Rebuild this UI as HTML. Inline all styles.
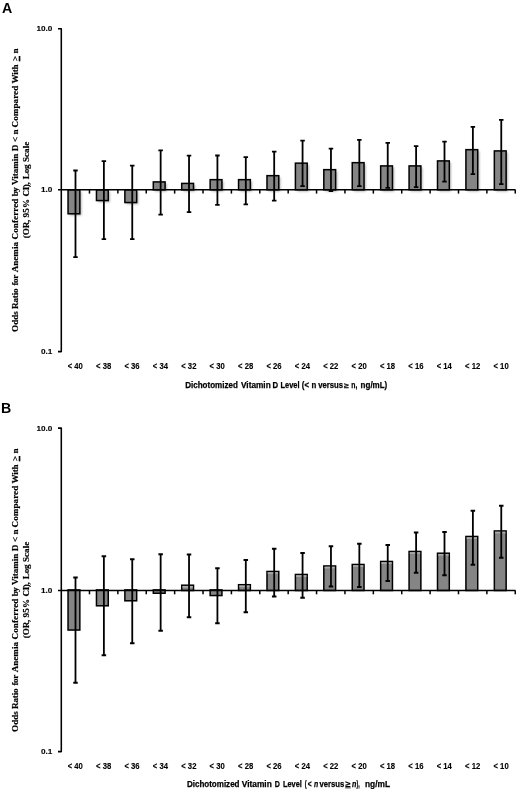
<!DOCTYPE html>
<html><head><meta charset="utf-8"><title>Figure</title>
<style>
html,body{margin:0;padding:0;background:#fff;}
body{width:520px;height:791px;overflow:hidden;font-family:"Liberation Sans",sans-serif;}
svg{display:block;}
text{fill:#000;}
.tk{font:bold 8.0px "Liberation Sans",sans-serif;stroke:#000;stroke-width:0.12px;}
.xl{font:bold 8.4px "Liberation Sans",sans-serif;stroke:#000;stroke-width:0.12px;}
.xt{font:bold 8.7px "Liberation Sans",sans-serif;stroke:#000;stroke-width:0.25px;}
.yt{font:bold 9.1px "Liberation Serif",serif;stroke:#000;stroke-width:0.2px;}
.pl{font:bold 14.2px "Liberation Sans",sans-serif;}
</style></head><body>
<svg width="520" height="791" viewBox="0 0 520 791">
<defs>
<filter id="sh" x="-50%" y="-50%" width="200%" height="200%"><feGaussianBlur stdDeviation="0.9"/></filter>
<filter id="soft" x="0" y="0" width="100%" height="100%"><feGaussianBlur stdDeviation="0.42"/></filter>
</defs>
<rect width="520" height="791" fill="#fff"/>
<g filter="url(#soft)">
<rect x="69.74" y="191.50" width="11.80" height="24.00" fill="#000" opacity="0.3" filter="url(#sh)"/>
<rect x="68.04" y="189.80" width="11.80" height="24.00" fill="#858585" stroke="#000" stroke-width="1.5"/>
<rect x="98.16" y="191.50" width="11.80" height="10.75" fill="#000" opacity="0.3" filter="url(#sh)"/>
<rect x="96.46" y="189.80" width="11.80" height="10.75" fill="#858585" stroke="#000" stroke-width="1.5"/>
<rect x="126.58" y="191.50" width="11.80" height="12.75" fill="#000" opacity="0.3" filter="url(#sh)"/>
<rect x="124.88" y="189.80" width="11.80" height="12.75" fill="#858585" stroke="#000" stroke-width="1.5"/>
<rect x="155.00" y="183.61" width="11.80" height="7.89" fill="#000" opacity="0.3" filter="url(#sh)"/>
<rect x="153.30" y="181.91" width="11.80" height="7.89" fill="#858585" stroke="#000" stroke-width="1.5"/>
<rect x="183.42" y="185.11" width="11.80" height="6.39" fill="#000" opacity="0.3" filter="url(#sh)"/>
<rect x="181.72" y="183.41" width="11.80" height="6.39" fill="#858585" stroke="#000" stroke-width="1.5"/>
<rect x="211.84" y="181.36" width="11.80" height="10.14" fill="#000" opacity="0.3" filter="url(#sh)"/>
<rect x="210.14" y="179.66" width="11.80" height="10.14" fill="#858585" stroke="#000" stroke-width="1.5"/>
<rect x="240.26" y="181.36" width="11.80" height="10.14" fill="#000" opacity="0.3" filter="url(#sh)"/>
<rect x="238.56" y="179.66" width="11.80" height="10.14" fill="#858585" stroke="#000" stroke-width="1.5"/>
<rect x="268.68" y="177.36" width="11.80" height="14.14" fill="#000" opacity="0.3" filter="url(#sh)"/>
<rect x="266.98" y="175.66" width="11.80" height="14.14" fill="#858585" stroke="#000" stroke-width="1.5"/>
<rect x="297.10" y="164.86" width="11.80" height="26.64" fill="#000" opacity="0.3" filter="url(#sh)"/>
<rect x="295.40" y="163.16" width="11.80" height="26.64" fill="#858585" stroke="#000" stroke-width="1.5"/>
<rect x="325.52" y="171.36" width="11.80" height="20.14" fill="#000" opacity="0.3" filter="url(#sh)"/>
<rect x="323.82" y="169.66" width="11.80" height="20.14" fill="#858585" stroke="#000" stroke-width="1.5"/>
<rect x="353.94" y="164.36" width="11.80" height="27.14" fill="#000" opacity="0.3" filter="url(#sh)"/>
<rect x="352.24" y="162.66" width="11.80" height="27.14" fill="#858585" stroke="#000" stroke-width="1.5"/>
<rect x="382.36" y="167.61" width="11.80" height="23.89" fill="#000" opacity="0.3" filter="url(#sh)"/>
<rect x="380.66" y="165.91" width="11.80" height="23.89" fill="#858585" stroke="#000" stroke-width="1.5"/>
<rect x="410.78" y="167.61" width="11.80" height="23.89" fill="#000" opacity="0.3" filter="url(#sh)"/>
<rect x="409.08" y="165.91" width="11.80" height="23.89" fill="#858585" stroke="#000" stroke-width="1.5"/>
<rect x="439.20" y="162.61" width="11.80" height="28.89" fill="#000" opacity="0.3" filter="url(#sh)"/>
<rect x="437.50" y="160.91" width="11.80" height="28.89" fill="#858585" stroke="#000" stroke-width="1.5"/>
<rect x="467.62" y="151.36" width="11.80" height="40.14" fill="#000" opacity="0.3" filter="url(#sh)"/>
<rect x="465.92" y="149.66" width="11.80" height="40.14" fill="#858585" stroke="#000" stroke-width="1.5"/>
<rect x="496.04" y="152.61" width="11.80" height="38.89" fill="#000" opacity="0.3" filter="url(#sh)"/>
<rect x="494.34" y="150.91" width="11.80" height="38.89" fill="#858585" stroke="#000" stroke-width="1.5"/>
<path d="M58 28.70 H61.30 V351.60 H58" stroke="#000" stroke-width="1.55" fill="none" stroke-linejoin="round"/>
<path d="M58 189.80 H515.56" stroke="#000" stroke-width="1.55"/>
<path d="M89.48 189.80 V193.60" stroke="#000" stroke-width="1.5"/>
<path d="M117.87 189.80 V193.60" stroke="#000" stroke-width="1.5"/>
<path d="M146.25 189.80 V193.60" stroke="#000" stroke-width="1.5"/>
<path d="M174.64 189.80 V193.60" stroke="#000" stroke-width="1.5"/>
<path d="M203.03 189.80 V193.60" stroke="#000" stroke-width="1.5"/>
<path d="M231.41 189.80 V193.60" stroke="#000" stroke-width="1.5"/>
<path d="M259.80 189.80 V193.60" stroke="#000" stroke-width="1.5"/>
<path d="M288.18 189.80 V193.60" stroke="#000" stroke-width="1.5"/>
<path d="M316.56 189.80 V193.60" stroke="#000" stroke-width="1.5"/>
<path d="M344.95 189.80 V193.60" stroke="#000" stroke-width="1.5"/>
<path d="M373.34 189.80 V193.60" stroke="#000" stroke-width="1.5"/>
<path d="M401.72 189.80 V193.60" stroke="#000" stroke-width="1.5"/>
<path d="M430.11 189.80 V193.60" stroke="#000" stroke-width="1.5"/>
<path d="M458.49 189.80 V193.60" stroke="#000" stroke-width="1.5"/>
<path d="M486.88 189.80 V193.60" stroke="#000" stroke-width="1.5"/>
<path d="M515.26 189.80 V193.60" stroke="#000" stroke-width="1.5"/>
<path d="M75.49 170.30 V257.25 M73.24 170.50 h4.5 M73.24 257.05 h4.5" stroke="#000" stroke-width="1.8" fill="none"/>
<path d="M103.88 160.95 V239.25 M101.63 161.15 h4.5 M101.63 239.05 h4.5" stroke="#000" stroke-width="1.8" fill="none"/>
<path d="M132.26 165.45 V239.25 M130.01 165.65 h4.5 M130.01 239.05 h4.5" stroke="#000" stroke-width="1.8" fill="none"/>
<path d="M160.65 150.20 V214.75 M158.40 150.40 h4.5 M158.40 214.55 h4.5" stroke="#000" stroke-width="1.8" fill="none"/>
<path d="M189.03 155.45 V212.25 M186.78 155.65 h4.5 M186.78 212.05 h4.5" stroke="#000" stroke-width="1.8" fill="none"/>
<path d="M217.42 155.30 V205.00 M215.17 155.50 h4.5 M215.17 204.80 h4.5" stroke="#000" stroke-width="1.8" fill="none"/>
<path d="M245.80 156.95 V204.50 M243.55 157.15 h4.5 M243.55 204.30 h4.5" stroke="#000" stroke-width="1.8" fill="none"/>
<path d="M274.19 151.45 V200.80 M271.94 151.65 h4.5 M271.94 200.60 h4.5" stroke="#000" stroke-width="1.8" fill="none"/>
<path d="M302.57 140.45 V186.25 M300.32 140.65 h4.5 M300.32 186.05 h4.5" stroke="#000" stroke-width="1.8" fill="none"/>
<path d="M330.96 148.45 V191.35 M328.71 148.65 h4.5 M328.71 191.15 h4.5" stroke="#000" stroke-width="1.8" fill="none"/>
<path d="M359.34 139.70 V186.25 M357.09 139.90 h4.5 M357.09 186.05 h4.5" stroke="#000" stroke-width="1.8" fill="none"/>
<path d="M387.73 142.70 V188.00 M385.48 142.90 h4.5 M385.48 187.80 h4.5" stroke="#000" stroke-width="1.8" fill="none"/>
<path d="M416.11 145.95 V187.25 M413.86 146.15 h4.5 M413.86 187.05 h4.5" stroke="#000" stroke-width="1.8" fill="none"/>
<path d="M444.50 141.45 V181.75 M442.25 141.65 h4.5 M442.25 181.55 h4.5" stroke="#000" stroke-width="1.8" fill="none"/>
<path d="M472.88 126.70 V174.25 M470.63 126.90 h4.5 M470.63 174.05 h4.5" stroke="#000" stroke-width="1.8" fill="none"/>
<path d="M501.27 119.70 V184.25 M499.02 119.90 h4.5 M499.02 184.05 h4.5" stroke="#000" stroke-width="1.8" fill="none"/>
<text x="36.5" y="31.30" class="tk" textLength="15.9" lengthAdjust="spacingAndGlyphs">10.0</text>
<text x="41.0" y="192.30" class="tk" textLength="11.4" lengthAdjust="spacingAndGlyphs">1.0</text>
<text x="41.0" y="354.40" class="tk" textLength="11.4" lengthAdjust="spacingAndGlyphs">0.1</text>
<text x="67.69" y="369.00" class="xl" textLength="15.2" lengthAdjust="spacingAndGlyphs">&lt; 40</text>
<text x="96.08" y="369.00" class="xl" textLength="15.2" lengthAdjust="spacingAndGlyphs">&lt; 38</text>
<text x="124.46" y="369.00" class="xl" textLength="15.2" lengthAdjust="spacingAndGlyphs">&lt; 36</text>
<text x="152.85" y="369.00" class="xl" textLength="15.2" lengthAdjust="spacingAndGlyphs">&lt; 34</text>
<text x="181.23" y="369.00" class="xl" textLength="15.2" lengthAdjust="spacingAndGlyphs">&lt; 32</text>
<text x="209.62" y="369.00" class="xl" textLength="15.2" lengthAdjust="spacingAndGlyphs">&lt; 30</text>
<text x="238.00" y="369.00" class="xl" textLength="15.2" lengthAdjust="spacingAndGlyphs">&lt; 28</text>
<text x="266.39" y="369.00" class="xl" textLength="15.2" lengthAdjust="spacingAndGlyphs">&lt; 26</text>
<text x="294.77" y="369.00" class="xl" textLength="15.2" lengthAdjust="spacingAndGlyphs">&lt; 24</text>
<text x="323.16" y="369.00" class="xl" textLength="15.2" lengthAdjust="spacingAndGlyphs">&lt; 22</text>
<text x="351.54" y="369.00" class="xl" textLength="15.2" lengthAdjust="spacingAndGlyphs">&lt; 20</text>
<text x="379.93" y="369.00" class="xl" textLength="15.2" lengthAdjust="spacingAndGlyphs">&lt; 18</text>
<text x="408.31" y="369.00" class="xl" textLength="15.2" lengthAdjust="spacingAndGlyphs">&lt; 16</text>
<text x="436.70" y="369.00" class="xl" textLength="15.2" lengthAdjust="spacingAndGlyphs">&lt; 14</text>
<text x="465.08" y="369.00" class="xl" textLength="15.2" lengthAdjust="spacingAndGlyphs">&lt; 12</text>
<text x="493.47" y="369.00" class="xl" textLength="15.2" lengthAdjust="spacingAndGlyphs">&lt; 10</text>
<text x="185.20" y="387.60" class="xt" textLength="52.60" lengthAdjust="spacingAndGlyphs">Dichotomized</text>
<text x="241.00" y="387.60" class="xt" textLength="29.70" lengthAdjust="spacingAndGlyphs">Vitamin</text>
<text x="272.60" y="387.60" class="xt" textLength="5.60" lengthAdjust="spacingAndGlyphs">D</text>
<text x="280.50" y="387.60" class="xt" textLength="19.00" lengthAdjust="spacingAndGlyphs">Level</text>
<text x="301.80" y="387.60" class="xt" textLength="7.20" lengthAdjust="spacingAndGlyphs">(&lt;</text>
<text x="311.60" y="387.60" class="xt" textLength="4.80" lengthAdjust="spacingAndGlyphs">n</text>
<text x="318.20" y="387.60" class="xt" textLength="24.80" lengthAdjust="spacingAndGlyphs">versus</text>
<text x="344.10" y="387.60" class="xt" textLength="4.80" lengthAdjust="spacingAndGlyphs" style="font-size:7.2px">&#8805;</text>
<text x="351.20" y="387.60" class="xt" textLength="6.10" lengthAdjust="spacingAndGlyphs">n,</text>
<text x="360.60" y="387.60" class="xt" textLength="26.70" lengthAdjust="spacingAndGlyphs">ng/mL)</text>
<g transform="translate(18.0 0) rotate(-90)" class="yt">
<text x="-331.90" y="0" textLength="20.80" lengthAdjust="spacing">Odds</text>
<text x="-308.90" y="0" textLength="20.50" lengthAdjust="spacing">Ratio</text>
<text x="-285.60" y="0" textLength="11.00" lengthAdjust="spacing">for</text>
<text x="-272.30" y="0" textLength="30.30" lengthAdjust="spacing">Anemia</text>
<text x="-239.40" y="0" textLength="40.80" lengthAdjust="spacing">Conferred</text>
<text x="-196.30" y="0" textLength="9.10" lengthAdjust="spacing">by</text>
<text x="-184.90" y="0" textLength="31.30" lengthAdjust="spacing">Vitamin</text>
<text x="-151.20" y="0" textLength="7.10" lengthAdjust="spacing">D</text>
<text x="-142.00" y="0" textLength="4.80" lengthAdjust="spacing">&lt;</text>
<text x="-134.60" y="0" textLength="4.60" lengthAdjust="spacing">n</text>
<text x="-127.40" y="0" textLength="41.60" lengthAdjust="spacing">Compared</text>
<text x="-83.40" y="0" textLength="18.90" lengthAdjust="spacing">With</text>
<rect x="-61.20" y="0.9" width="5.10" height="1.3" fill="#000"/>
<text x="-61.00" y="0" textLength="4.70" lengthAdjust="spacing">&gt;</text>
<text x="-53.50" y="0" textLength="4.60" lengthAdjust="spacing">n</text>
</g>
<g transform="translate(28.6 0) rotate(-90)" class="yt">
<text x="-238.20" y="0" textLength="18.60" lengthAdjust="spacing">(OR,</text>
<text x="-217.40" y="0" textLength="18.50" lengthAdjust="spacing">95%</text>
<text x="-196.60" y="0" textLength="14.40" lengthAdjust="spacing">CI),</text>
<text x="-179.20" y="0" textLength="14.80" lengthAdjust="spacing">Log</text>
<text x="-162.00" y="0" textLength="20.20" lengthAdjust="spacing">Scale</text>
</g>
<text x="2.0" y="13.30" class="pl">A</text>
<rect x="68.04" y="589.90" width="11.80" height="40.15" fill="#858585" stroke="#000" stroke-width="1.5"/>
<rect x="96.46" y="589.90" width="11.80" height="15.90" fill="#858585" stroke="#000" stroke-width="1.5"/>
<rect x="124.88" y="589.90" width="11.80" height="10.90" fill="#858585" stroke="#000" stroke-width="1.5"/>
<rect x="153.30" y="589.90" width="11.80" height="3.35" fill="#858585" stroke="#000" stroke-width="1.5"/>
<rect x="181.72" y="585.21" width="11.80" height="5.29" fill="#858585" stroke="#000" stroke-width="1.5"/>
<rect x="182.47" y="585.96" width="10.30" height="1.7" fill="#ababab"/>
<rect x="210.14" y="589.90" width="11.80" height="5.65" fill="#858585" stroke="#000" stroke-width="1.5"/>
<rect x="238.56" y="584.71" width="11.80" height="5.79" fill="#858585" stroke="#000" stroke-width="1.5"/>
<rect x="239.31" y="585.46" width="10.30" height="1.7" fill="#ababab"/>
<rect x="266.98" y="571.46" width="11.80" height="19.04" fill="#858585" stroke="#000" stroke-width="1.5"/>
<rect x="267.73" y="572.21" width="10.30" height="1.7" fill="#ababab"/>
<rect x="295.40" y="574.46" width="11.80" height="16.04" fill="#858585" stroke="#000" stroke-width="1.5"/>
<rect x="296.15" y="575.21" width="10.30" height="1.7" fill="#ababab"/>
<rect x="323.82" y="565.96" width="11.80" height="24.54" fill="#858585" stroke="#000" stroke-width="1.5"/>
<rect x="324.57" y="566.71" width="10.30" height="1.7" fill="#ababab"/>
<rect x="352.24" y="564.46" width="11.80" height="26.04" fill="#858585" stroke="#000" stroke-width="1.5"/>
<rect x="352.99" y="565.21" width="10.30" height="1.7" fill="#ababab"/>
<rect x="380.66" y="561.46" width="11.80" height="29.04" fill="#858585" stroke="#000" stroke-width="1.5"/>
<rect x="381.41" y="562.21" width="10.30" height="1.7" fill="#ababab"/>
<rect x="409.08" y="551.46" width="11.80" height="39.04" fill="#858585" stroke="#000" stroke-width="1.5"/>
<rect x="409.83" y="552.21" width="10.30" height="1.7" fill="#ababab"/>
<rect x="437.50" y="553.21" width="11.80" height="37.29" fill="#858585" stroke="#000" stroke-width="1.5"/>
<rect x="438.25" y="553.96" width="10.30" height="1.7" fill="#ababab"/>
<rect x="465.92" y="536.46" width="11.80" height="54.04" fill="#858585" stroke="#000" stroke-width="1.5"/>
<rect x="466.67" y="537.21" width="10.30" height="1.7" fill="#ababab"/>
<rect x="494.34" y="530.96" width="11.80" height="59.54" fill="#858585" stroke="#000" stroke-width="1.5"/>
<rect x="495.09" y="531.71" width="10.30" height="1.7" fill="#ababab"/>
<path d="M58 428.10 H61.30 V751.60 H58" stroke="#000" stroke-width="1.55" fill="none" stroke-linejoin="round"/>
<path d="M58 590.50 H515.56" stroke="#000" stroke-width="1.55"/>
<path d="M89.48 590.50 V594.30" stroke="#000" stroke-width="1.5"/>
<path d="M117.87 590.50 V594.30" stroke="#000" stroke-width="1.5"/>
<path d="M146.25 590.50 V594.30" stroke="#000" stroke-width="1.5"/>
<path d="M174.64 590.50 V594.30" stroke="#000" stroke-width="1.5"/>
<path d="M203.03 590.50 V594.30" stroke="#000" stroke-width="1.5"/>
<path d="M231.41 590.50 V594.30" stroke="#000" stroke-width="1.5"/>
<path d="M259.80 590.50 V594.30" stroke="#000" stroke-width="1.5"/>
<path d="M288.18 590.50 V594.30" stroke="#000" stroke-width="1.5"/>
<path d="M316.56 590.50 V594.30" stroke="#000" stroke-width="1.5"/>
<path d="M344.95 590.50 V594.30" stroke="#000" stroke-width="1.5"/>
<path d="M373.34 590.50 V594.30" stroke="#000" stroke-width="1.5"/>
<path d="M401.72 590.50 V594.30" stroke="#000" stroke-width="1.5"/>
<path d="M430.11 590.50 V594.30" stroke="#000" stroke-width="1.5"/>
<path d="M458.49 590.50 V594.30" stroke="#000" stroke-width="1.5"/>
<path d="M486.88 590.50 V594.30" stroke="#000" stroke-width="1.5"/>
<path d="M515.26 590.50 V594.30" stroke="#000" stroke-width="1.5"/>
<path d="M75.49 577.30 V682.95 M73.24 577.50 h4.5 M73.24 682.75 h4.5" stroke="#000" stroke-width="1.8" fill="none"/>
<path d="M103.88 556.05 V655.45 M101.63 556.25 h4.5 M101.63 655.25 h4.5" stroke="#000" stroke-width="1.8" fill="none"/>
<path d="M132.26 559.05 V643.45 M130.01 559.25 h4.5 M130.01 643.25 h4.5" stroke="#000" stroke-width="1.8" fill="none"/>
<path d="M160.65 554.05 V630.95 M158.40 554.25 h4.5 M158.40 630.75 h4.5" stroke="#000" stroke-width="1.8" fill="none"/>
<path d="M189.03 554.30 V617.45 M186.78 554.50 h4.5 M186.78 617.25 h4.5" stroke="#000" stroke-width="1.8" fill="none"/>
<path d="M217.42 568.05 V623.45 M215.17 568.25 h4.5 M215.17 623.25 h4.5" stroke="#000" stroke-width="1.8" fill="none"/>
<path d="M245.80 559.80 V612.45 M243.55 560.00 h4.5 M243.55 612.25 h4.5" stroke="#000" stroke-width="1.8" fill="none"/>
<path d="M274.19 548.55 V596.70 M271.94 548.75 h4.5 M271.94 596.50 h4.5" stroke="#000" stroke-width="1.8" fill="none"/>
<path d="M302.57 552.80 V597.95 M300.32 553.00 h4.5 M300.32 597.75 h4.5" stroke="#000" stroke-width="1.8" fill="none"/>
<path d="M330.96 546.05 V586.70 M328.71 546.25 h4.5 M328.71 586.50 h4.5" stroke="#000" stroke-width="1.8" fill="none"/>
<path d="M359.34 543.55 V587.20 M357.09 543.75 h4.5 M357.09 587.00 h4.5" stroke="#000" stroke-width="1.8" fill="none"/>
<path d="M387.73 544.80 V581.20 M385.48 545.00 h4.5 M385.48 581.00 h4.5" stroke="#000" stroke-width="1.8" fill="none"/>
<path d="M416.11 532.30 V572.95 M413.86 532.50 h4.5 M413.86 572.75 h4.5" stroke="#000" stroke-width="1.8" fill="none"/>
<path d="M444.50 531.80 V575.45 M442.25 532.00 h4.5 M442.25 575.25 h4.5" stroke="#000" stroke-width="1.8" fill="none"/>
<path d="M472.88 510.55 V564.95 M470.63 510.75 h4.5 M470.63 564.75 h4.5" stroke="#000" stroke-width="1.8" fill="none"/>
<path d="M501.27 505.55 V557.95 M499.02 505.75 h4.5 M499.02 557.75 h4.5" stroke="#000" stroke-width="1.8" fill="none"/>
<text x="36.5" y="430.70" class="tk" textLength="15.9" lengthAdjust="spacingAndGlyphs">10.0</text>
<text x="41.0" y="593.00" class="tk" textLength="11.4" lengthAdjust="spacingAndGlyphs">1.0</text>
<text x="41.0" y="754.40" class="tk" textLength="11.4" lengthAdjust="spacingAndGlyphs">0.1</text>
<text x="67.69" y="769.00" class="xl" textLength="15.2" lengthAdjust="spacingAndGlyphs">&lt; 40</text>
<text x="96.08" y="769.00" class="xl" textLength="15.2" lengthAdjust="spacingAndGlyphs">&lt; 38</text>
<text x="124.46" y="769.00" class="xl" textLength="15.2" lengthAdjust="spacingAndGlyphs">&lt; 36</text>
<text x="152.85" y="769.00" class="xl" textLength="15.2" lengthAdjust="spacingAndGlyphs">&lt; 34</text>
<text x="181.23" y="769.00" class="xl" textLength="15.2" lengthAdjust="spacingAndGlyphs">&lt; 32</text>
<text x="209.62" y="769.00" class="xl" textLength="15.2" lengthAdjust="spacingAndGlyphs">&lt; 30</text>
<text x="238.00" y="769.00" class="xl" textLength="15.2" lengthAdjust="spacingAndGlyphs">&lt; 28</text>
<text x="266.39" y="769.00" class="xl" textLength="15.2" lengthAdjust="spacingAndGlyphs">&lt; 26</text>
<text x="294.77" y="769.00" class="xl" textLength="15.2" lengthAdjust="spacingAndGlyphs">&lt; 24</text>
<text x="323.16" y="769.00" class="xl" textLength="15.2" lengthAdjust="spacingAndGlyphs">&lt; 22</text>
<text x="351.54" y="769.00" class="xl" textLength="15.2" lengthAdjust="spacingAndGlyphs">&lt; 20</text>
<text x="379.93" y="769.00" class="xl" textLength="15.2" lengthAdjust="spacingAndGlyphs">&lt; 18</text>
<text x="408.31" y="769.00" class="xl" textLength="15.2" lengthAdjust="spacingAndGlyphs">&lt; 16</text>
<text x="436.70" y="769.00" class="xl" textLength="15.2" lengthAdjust="spacingAndGlyphs">&lt; 14</text>
<text x="465.08" y="769.00" class="xl" textLength="15.2" lengthAdjust="spacingAndGlyphs">&lt; 12</text>
<text x="493.47" y="769.00" class="xl" textLength="15.2" lengthAdjust="spacingAndGlyphs">&lt; 10</text>
<text x="186.90" y="786.60" class="xt" textLength="52.60" lengthAdjust="spacingAndGlyphs">Dichotomized</text>
<text x="241.80" y="786.60" class="xt" textLength="30.00" lengthAdjust="spacingAndGlyphs">Vitamin</text>
<text x="274.80" y="786.60" class="xt" textLength="5.10" lengthAdjust="spacingAndGlyphs">D</text>
<text x="282.90" y="786.60" class="xt" textLength="18.90" lengthAdjust="spacingAndGlyphs">Level</text>
<text x="304.80" y="786.60" class="xt" textLength="1.90" lengthAdjust="spacingAndGlyphs">(</text>
<text x="307.80" y="786.60" class="xt" textLength="3.90" lengthAdjust="spacingAndGlyphs">&lt;</text>
<text x="313.90" y="786.60" class="xt" textLength="4.20" lengthAdjust="spacingAndGlyphs" style="font-style:italic">n</text>
<text x="319.50" y="786.60" class="xt" textLength="24.70" lengthAdjust="spacingAndGlyphs">versus</text>
<rect x="345.10" y="787.60" width="5.60" height="0.7" fill="#000"/>
<text x="345.40" y="786.60" class="xt" textLength="5.00" lengthAdjust="spacingAndGlyphs">&#8805;</text>
<text x="352.00" y="786.60" class="xt" textLength="4.40" lengthAdjust="spacingAndGlyphs" style="font-style:italic">n</text>
<text x="356.50" y="786.60" class="xt" textLength="3.30" lengthAdjust="spacingAndGlyphs">),</text>
<text x="365.00" y="786.60" class="xt" textLength="25.00" lengthAdjust="spacingAndGlyphs">ng/mL</text>
<g transform="translate(18.0 400) rotate(-90)" class="yt">
<text x="-331.90" y="0" textLength="20.80" lengthAdjust="spacing">Odds</text>
<text x="-308.90" y="0" textLength="20.50" lengthAdjust="spacing">Ratio</text>
<text x="-285.60" y="0" textLength="11.00" lengthAdjust="spacing">for</text>
<text x="-272.30" y="0" textLength="30.30" lengthAdjust="spacing">Anemia</text>
<text x="-239.40" y="0" textLength="40.80" lengthAdjust="spacing">Conferred</text>
<text x="-196.30" y="0" textLength="9.10" lengthAdjust="spacing">by</text>
<text x="-184.90" y="0" textLength="31.30" lengthAdjust="spacing">Vitamin</text>
<text x="-151.20" y="0" textLength="7.10" lengthAdjust="spacing">D</text>
<text x="-142.00" y="0" textLength="4.80" lengthAdjust="spacing">&lt;</text>
<text x="-134.60" y="0" textLength="4.60" lengthAdjust="spacing">n</text>
<text x="-127.40" y="0" textLength="41.60" lengthAdjust="spacing">Compared</text>
<text x="-83.40" y="0" textLength="18.90" lengthAdjust="spacing">With</text>
<rect x="-61.20" y="0.9" width="5.10" height="1.3" fill="#000"/>
<text x="-61.00" y="0" textLength="4.70" lengthAdjust="spacing">&gt;</text>
<text x="-53.50" y="0" textLength="4.60" lengthAdjust="spacing">n</text>
</g>
<g transform="translate(28.6 400) rotate(-90)" class="yt">
<text x="-238.20" y="0" textLength="18.60" lengthAdjust="spacing">(OR,</text>
<text x="-217.40" y="0" textLength="18.50" lengthAdjust="spacing">95%</text>
<text x="-196.60" y="0" textLength="14.40" lengthAdjust="spacing">CI),</text>
<text x="-179.20" y="0" textLength="14.80" lengthAdjust="spacing">Log</text>
<text x="-162.00" y="0" textLength="20.20" lengthAdjust="spacing">Scale</text>
</g>
<text x="1.0" y="413.10" class="pl">B</text>
</g>
</svg>
</body></html>
